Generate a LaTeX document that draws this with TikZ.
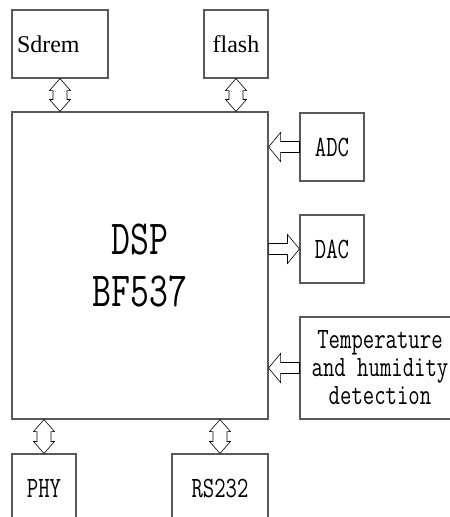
\documentclass[tikz,border=0pt]{standalone}
\usepackage{fontspec}
\setmainfont{Liberation Serif}
\newfontfamily\condfont[FakeStretch=0.75]{Latin Modern Mono}
\usetikzlibrary{calc}

% hollow block arrow, tip at #1, tail at #2
\newcommand{\blockarrow}[2]{%
  \coordinate (hb) at ($(#1)!12pt!(#2)$);
  \draw[link] (#1) -- ($(hb)!14.5pt!90:(#1)$) -- ($(hb)!5.5pt!90:(#1)$)
    -- ($(#2)!5.5pt!90:(#1)$) -- ($(#2)!5.5pt!-90:(#1)$)
    -- ($(hb)!5.5pt!-90:(#1)$) -- ($(hb)!14.5pt!-90:(#1)$) -- cycle;}
% hollow double-headed block arrow between #1 and #2
\newcommand{\biarrow}[2]{%
  \coordinate (ha) at ($(#1)!12pt!(#2)$);
  \coordinate (hb) at ($(#2)!12pt!(#1)$);
  \draw[link] (#1) -- ($(ha)!10.5pt!90:(#1)$) -- ($(ha)!7pt!90:(#1)$)
    -- ($(hb)!7pt!-90:(#2)$) -- ($(hb)!10.5pt!-90:(#2)$) -- (#2)
    -- ($(hb)!10.5pt!90:(#2)$) -- ($(hb)!7pt!90:(#2)$)
    -- ($(ha)!7pt!-90:(#1)$) -- ($(ha)!10.5pt!-90:(#1)$) -- cycle;}

\begin{document}
\begin{tikzpicture}[x=1pt,y=-1pt,
  block/.style={draw=black!65,line width=1.1pt,fill=white,minimum height=68pt,inner sep=0pt},
  memtext/.style={font=\fontsize{24}{26}\selectfont},
  iotext/.style={font=\condfont\fontsize{29.5}{28}\selectfont,align=center},
  link/.style={draw=black,line width=.6pt,fill=white,line join=miter}
]
\useasboundingbox (0,0) rectangle (450,517);
\clip (0,0) rectangle (450,517);
% memories
\node[block,memtext,minimum width=96pt,text width=86pt,inner xsep=5pt,align=left] (sdrem) at (60,44) {Sdrem};
\node[block,memtext,minimum width=64pt] (flash) at (236,44) {flash};
% processor
\node[block,minimum width=256pt,minimum height=307pt,align=center,
  font=\condfont\fontsize{49}{52}\selectfont] (dsp) at (140,265.5) {DSP\\BF537};
% converters and sensor
\node[block,iotext,minimum width=64pt] (adc) at (332,147) {ADC};
\node[block,iotext,minimum width=64pt] (dac) at (332,249) {DAC};
\node[block,iotext,minimum width=160pt,minimum height=102pt] (temp) at (380,368) {Temperature\\and humidity\\detection};
% interfaces
\node[block,iotext,minimum width=64pt] (phy) at (44,488) {PHY};
\node[block,iotext,minimum width=96pt] (rs) at (220,488) {RS232};
% links
\biarrow{sdrem.south}{sdrem.south |- dsp.north}
\biarrow{flash.south}{flash.south |- dsp.north}
\biarrow{phy.north |- dsp.south}{phy.north}
\biarrow{rs.north |- dsp.south}{rs.north}
\blockarrow{adc.west -| dsp.east}{adc.west}
\blockarrow{dac.west}{dac.west -| dsp.east}
\blockarrow{temp.west -| dsp.east}{temp.west}
\end{tikzpicture}
\end{document}
